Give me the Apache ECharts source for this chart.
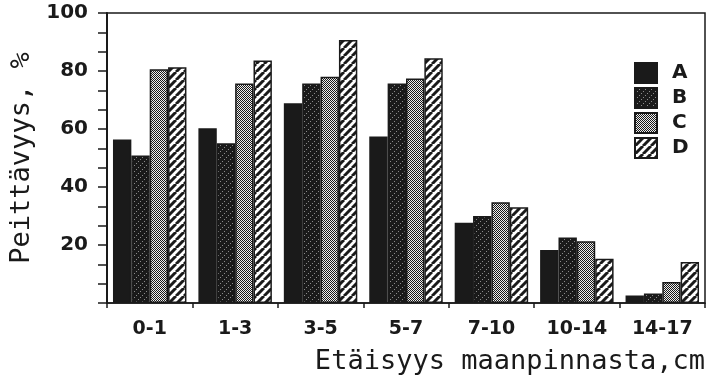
<!DOCTYPE html>
<html>
<head>
<meta charset="utf-8">
<script src="https://cdn.jsdelivr.net/npm/echarts@6/dist/echarts.min.js"></script>
<style>
html,body{margin:0;padding:0;background:#fff;}
#chart{width:711px;height:383px;}
</style>
</head>
<body>
<div id="chart"></div>
<script>
// Data
var categories = ['0-1', '1-3', '3-5', '5-7', '7-10', '10-14', '14-17'];
var seriesNames = ['A', 'B', 'C', 'D'];
var valuesA = [56.4, 60.3, 68.9, 57.4, 27.7, 18.3, 2.6];
var valuesB = [50.9, 55.1, 75.7, 75.7, 30.0, 22.6, 3.3];
var valuesC = [80.6, 75.7, 78.0, 77.4, 34.7, 21.3, 7.2];
var valuesD = [81.3, 83.6, 90.7, 84.4, 33.0, 15.3, 14.1];
var yTicks = [0, 20, 40, 60, 80, 100];

var INK = '#1a1a1a';

function makeCanvas(size) {
  var c = document.createElement('canvas');
  c.width = size; c.height = size;
  return c;
}
function patternB() {
  var c = makeCanvas(6), g = c.getContext('2d');
  g.fillStyle = INK; g.fillRect(0, 0, 6, 6);
  g.fillStyle = '#8a8a8a';
  g.fillRect(4, 1, 1, 1); g.fillRect(2, 3, 1, 1); g.fillRect(0, 5, 1, 1);
  return c;
}
function patternC() {
  var c = makeCanvas(2), g = c.getContext('2d');
  g.fillStyle = '#eeeeee'; g.fillRect(0, 0, 2, 2);
  g.fillStyle = INK; g.fillRect(0, 0, 1, 1); g.fillRect(1, 1, 1, 1);
  return c;
}
function patternD() {
  var s = 8;
  var c = makeCanvas(s), g = c.getContext('2d');
  g.fillStyle = '#ffffff'; g.fillRect(0, 0, s, s);
  g.strokeStyle = INK; g.lineWidth = 3;
  [-s, 0, s].forEach(function (k) {
    g.beginPath(); g.moveTo(k, s); g.lineTo(k + s, 0); g.stroke();
  });
  return c;
}
var fills = [
  INK,
  { image: patternB(), repeat: 'repeat' },
  { image: patternC(), repeat: 'repeat' },
  { image: patternD(), repeat: 'repeat' }
];
var allValues = [valuesA, valuesB, valuesC, valuesD];

var chart = echarts.init(document.getElementById('chart'), null, { renderer: 'canvas' });
var FONT = 'DejaVu Sans';
var MONO = 'DejaVu Sans Mono';

chart.setOption({
  backgroundColor: '#ffffff',
  animation: false,
  grid: {
    left: 107, right: 6, top: 13, bottom: 80,
    show: true, borderColor: INK, borderWidth: 1.5, backgroundColor: 'transparent'
  },
  legend: {
    orient: 'vertical',
    left: 634, top: 62,
    padding: 0,
    itemWidth: 22, itemHeight: 20, itemGap: 3,
    data: seriesNames,
    textStyle: { fontFamily: FONT, fontWeight: 'bold', fontSize: 20, color: INK, padding: [0, 0, 0, 10] },
    icon: 'rect'
  },
  xAxis: {
    type: 'category',
    data: categories,
    name: 'Etäisyys maanpinnasta,cm',
    nameLocation: 'end',
    nameGap: 0,
    nameTextStyle: {
      fontFamily: MONO, fontSize: 27, color: INK,
      align: 'right', verticalAlign: 'top', padding: [45, 0, 0, 0]
    },
    axisLine: { show: true, lineStyle: { color: INK, width: 1.5 } },
    axisTick: { show: true, length: 5, lineStyle: { color: INK, width: 1.5 } },
    axisLabel: { fontFamily: FONT, fontWeight: 'bold', fontSize: 19, color: INK, margin: 17 }
  },
  yAxis: {
    type: 'value',
    min: yTicks[0], max: yTicks[yTicks.length - 1], interval: 20,
    name: 'Peittävyys, %',
    nameLocation: 'middle',
    nameGap: 71,
    nameTextStyle: { fontFamily: MONO, fontSize: 27, color: INK },
    axisLine: { show: true, lineStyle: { color: INK, width: 2 } },
    axisTick: { show: true, length: 9, lineStyle: { color: INK, width: 1.5 } },
    minorTick: { show: true, splitNumber: 3, length: 9, lineStyle: { color: INK, width: 1.5 } },
    splitLine: { show: false },
    axisLabel: {
      fontFamily: FONT, fontWeight: 'bold', fontSize: 20, color: INK, margin: 19,
      formatter: function (v) { return v === 0 ? '' : String(v); }
    }
  },
  series: seriesNames.map(function (n, i) {
    return {
      name: n,
      type: 'bar',
      data: allValues[i],
      barGap: '0%',
      barCategoryGap: '14%',
      itemStyle: { color: fills[i], borderColor: INK, borderWidth: 1.5 }
    };
  })
});
</script>
</body>
</html>
